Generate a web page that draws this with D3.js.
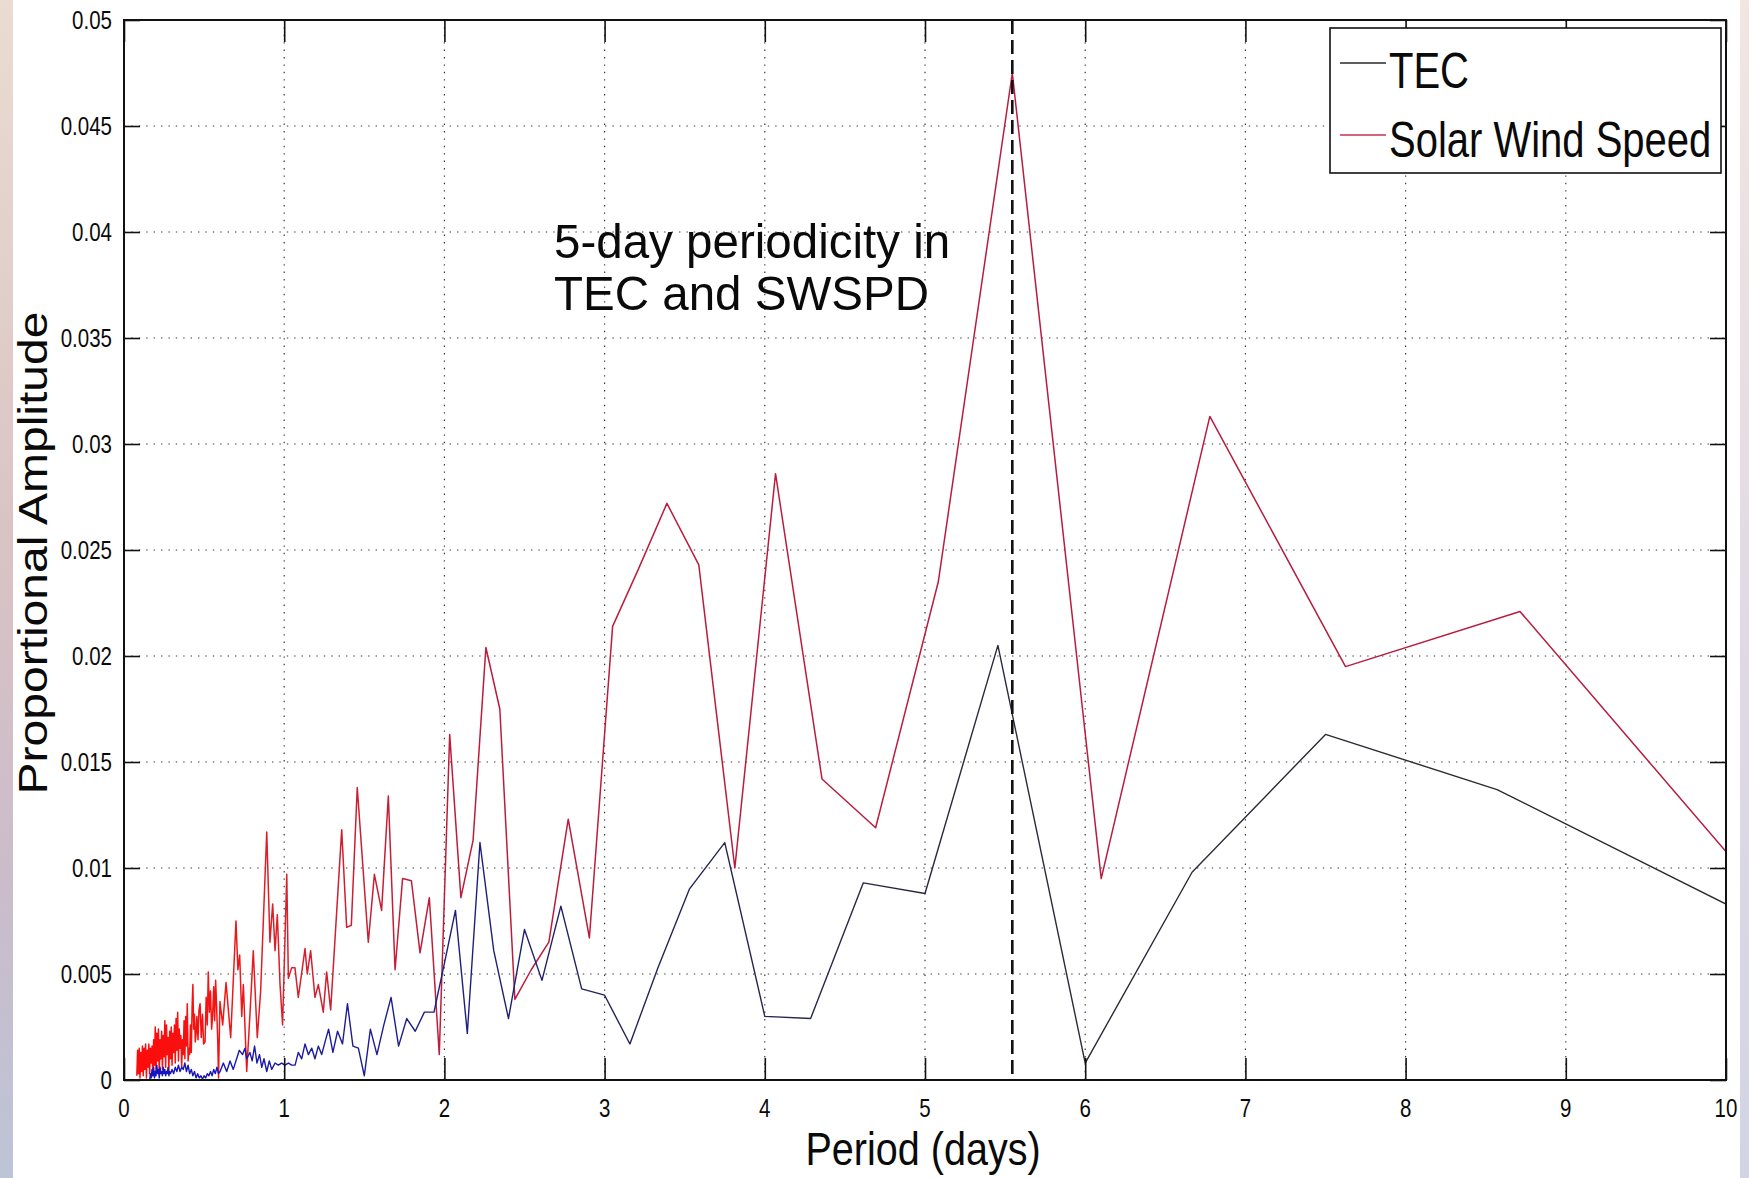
<!DOCTYPE html>
<html>
<head>
<meta charset="utf-8">
<script src="https://cdn.jsdelivr.net/npm/d3@7"></script>
<style>
  body { margin: 0; background: #ffffff; }
  svg { display: block; font-family: "Liberation Sans", Arial, Helvetica, sans-serif; }
</style>
</head>
<body>
<svg id="chart" width="1749" height="1178"></svg>
<script>
// ---- data -----------------------------------------------------------
const xTicks = [0, 1, 2, 3, 4, 5, 6, 7, 8, 9, 10];
const yTicks = [0, 0.005, 0.01, 0.015, 0.02, 0.025, 0.03, 0.035, 0.04, 0.045, 0.05];
const yTickLabels = ["0", "0.005", "0.01", "0.015", "0.02", "0.025", "0.03", "0.035", "0.04", "0.045", "0.05"];
const seriesNames = ["TEC", "Solar Wind Speed"];
const markerPeriod = 5.545;
const noteLines = ["5-day periodicity in", "TEC and SWSPD"];

// TEC spectrum: [period (days), proportional amplitude]
const tecSeries = [
  [0.160,0.0000],[0.165,0.0003],[0.170,0.0001],[0.175,0.0005],[0.180,0.0002],[0.185,0.0006],
  [0.190,0.0001],[0.195,0.0004],[0.200,0.0002],[0.205,0.0007],[0.210,0.0003],[0.215,0.0005],
  [0.220,0.0001],[0.225,0.0006],[0.230,0.0003],[0.235,0.0004],[0.240,0.0002],[0.245,0.0006],
  [0.250,0.0003],[0.255,0.0005],[0.260,0.0002],[0.265,0.0004],[0.270,0.0003],[0.275,0.0006],
  [0.280,0.0002],[0.285,0.0004],[0.290,0.0003],[0.300,0.0005],[0.310,0.0003],[0.320,0.0006],
  [0.330,0.0004],[0.340,0.0007],[0.350,0.0004],[0.360,0.0006],[0.370,0.0005],[0.380,0.0008],
  [0.390,0.0004],[0.400,0.0007],[0.410,0.0003],[0.420,0.0005],[0.430,0.0002],[0.440,0.0004],
  [0.450,0.0001],[0.460,0.0003],[0.470,0.0001],[0.480,0.0002],[0.490,0.00005],[0.500,0.0002],
  [0.510,0.0001],[0.520,0.0003],[0.530,0.0002],[0.540,0.0004],[0.550,0.0002],[0.560,0.0005],
  [0.570,0.0003],[0.580,0.0006],[0.590,0.0003],[0.600,0.0004],[0.620,0.0008],[0.641,0.0004],
  [0.662,0.0009],[0.682,0.0005],[0.703,0.0010],[0.720,0.0014],[0.740,0.0012],[0.755,0.0015],
  [0.766,0.0010],[0.786,0.0013],[0.800,0.0009],[0.815,0.0016],[0.830,0.0008],[0.846,0.0012],
  [0.860,0.0006],[0.874,0.0010],[0.891,0.0004],[0.907,0.0009],[0.922,0.0005],[0.943,0.0008],
  [0.963,0.0007],[0.984,0.0008],[1.005,0.0007],[1.026,0.0008],[1.047,0.0007],[1.068,0.0007],
  [1.088,0.0013],[1.109,0.0010],[1.130,0.0017],[1.151,0.0012],[1.172,0.0015],[1.192,0.0010],
  [1.213,0.0016],[1.234,0.0012],[1.255,0.0018],[1.277,0.0024],[1.304,0.0013],[1.333,0.0023],
  [1.364,0.0017],[1.395,0.0036],[1.429,0.0016],[1.463,0.0015],[1.500,0.0002],[1.538,0.0024],
  [1.579,0.0012],[1.622,0.0026],[1.667,0.0039],[1.714,0.0016],[1.765,0.0029],[1.818,0.0023],
  [1.875,0.0032],[1.935,0.0032],[2.000,0.0055],[2.069,0.0080],[2.143,0.0022],[2.222,0.0112],
  [2.308,0.0061],[2.400,0.0029],[2.500,0.0071],[2.609,0.0047],[2.727,0.0082],[2.857,0.0043],
  [3.000,0.0040],[3.158,0.0017],[3.333,0.0053],[3.529,0.0090],[3.750,0.0112],[4.000,0.0030],
  [4.286,0.0029],[4.615,0.0093],[5.000,0.0088],[5.455,0.0205],[6.000,0.0008],[6.667,0.0098],
  [7.500,0.0163],[8.571,0.0137],[10.000,0.0083]
];

// Solar wind speed spectrum: [period (days), proportional amplitude]
const swsSeries = [
  [0.080,0.0002],[0.085,0.0014],[0.090,0.0003],[0.095,0.0015],[0.100,0.0001],[0.105,0.0013],
  [0.110,0.0004],[0.115,0.0016],[0.120,0.0002],[0.125,0.0015],[0.130,0.0005],[0.135,0.0017],
  [0.140,0.0001],[0.145,0.0014],[0.150,0.0006],[0.155,0.0017],[0.160,0.0003],[0.165,0.0015],
  [0.170,0.0008],[0.175,0.0016],[0.180,0.0002],[0.185,0.0019],[0.190,0.0007],[0.195,0.0025],
  [0.200,0.0004],[0.205,0.0022],[0.210,0.0009],[0.215,0.0024],[0.220,0.0003],[0.225,0.0019],
  [0.230,0.0010],[0.235,0.0023],[0.240,0.0005],[0.245,0.0021],[0.250,0.0011],[0.255,0.0028],
  [0.260,0.0006],[0.265,0.0026],[0.270,0.0012],[0.275,0.0020],[0.280,0.0004],[0.285,0.0023],
  [0.290,0.0010],[0.295,0.0025],[0.300,0.0007],[0.305,0.0022],[0.310,0.0013],[0.315,0.0026],
  [0.320,0.0008],[0.325,0.0029],[0.330,0.0014],[0.335,0.0032],[0.340,0.0009],[0.345,0.0024],
  [0.350,0.0015],[0.355,0.0021],[0.360,0.0006],[0.365,0.0019],[0.370,0.0012],[0.375,0.0028],
  [0.380,0.0010],[0.385,0.0030],[0.390,0.0016],[0.395,0.0036],[0.400,0.0009],[0.405,0.0015],
  [0.410,0.0012],[0.415,0.0026],[0.420,0.0013],[0.425,0.0034],[0.430,0.0045],[0.435,0.0024],
  [0.440,0.0031],[0.445,0.0018],[0.450,0.0022],[0.455,0.0030],[0.462,0.0019],[0.468,0.0033],
  [0.475,0.0036],[0.482,0.0020],[0.490,0.0031],[0.497,0.0017],[0.506,0.0018],[0.513,0.0039],
  [0.520,0.0026],[0.526,0.0051],[0.533,0.0032],[0.540,0.0042],[0.547,0.0024],[0.553,0.0030],
  [0.560,0.0044],[0.566,0.0028],[0.572,0.0047],[0.578,0.0035],[0.585,0.0019],[0.590,0.0001],
  [0.599,0.0037],[0.616,0.0026],[0.637,0.0046],[0.666,0.0020],[0.699,0.0075],[0.711,0.0052],
  [0.722,0.0059],[0.735,0.0030],[0.745,0.0045],[0.766,0.0004],[0.787,0.0032],[0.807,0.0061],
  [0.832,0.0020],[0.853,0.0042],[0.891,0.0117],[0.911,0.0065],[0.928,0.0083],[0.943,0.0061],
  [0.957,0.0078],[0.974,0.0045],[0.990,0.0026],[1.016,0.0097],[1.026,0.0048],[1.047,0.0053],
  [1.067,0.0053],[1.088,0.0039],[1.130,0.0062],[1.144,0.0050],[1.165,0.0061],[1.192,0.0039],
  [1.213,0.0045],[1.244,0.0032],[1.265,0.0051],[1.290,0.0033],[1.359,0.0118],[1.390,0.0072],
  [1.419,0.0073],[1.456,0.0138],[1.525,0.0065],[1.563,0.0097],[1.608,0.0080],[1.650,0.0134],
  [1.692,0.0052],[1.739,0.0095],[1.794,0.0094],[1.848,0.0060],[1.906,0.0086],[1.968,0.0012],
  [2.033,0.0163],[2.103,0.0086],[2.179,0.0113],[2.259,0.0204],[2.346,0.0175],[2.440,0.0038],
  [2.542,0.0052],[2.652,0.0065],[2.773,0.0123],[2.905,0.0067],[3.050,0.0214],[3.211,0.0241],
  [3.389,0.0272],[3.588,0.0243],[3.813,0.0100],[4.067,0.0286],[4.357,0.0142],[4.692,0.0119],
  [5.083,0.0235],[5.545,0.0475],[6.100,0.0095],[6.778,0.0313],[7.625,0.0195],[8.714,0.0221],
  [10.167,0.0093]
];

// ---- layout ---------------------------------------------------------
const W = 1749, H = 1178;
const plot = { left: 124, right: 1726, top: 20, bottom: 1080 };
const squeeze = 0.82;   // narrow letterforms used by the axis text

const x = d3.scaleLinear().domain([0, 10]).range([plot.left, plot.right]);
const y = d3.scaleLinear().domain([0, 0.05]).range([plot.bottom, plot.top]);

const svg = d3.select("#chart");
const defs = svg.append("defs");

// slide edge colouring
const edgeL = defs.append("linearGradient").attr("id", "edgeL")
  .attr("x1", 0).attr("y1", 0).attr("x2", 0).attr("y2", 1);
edgeL.append("stop").attr("offset", "0%").attr("stop-color", "#eadcd2");
edgeL.append("stop").attr("offset", "45%").attr("stop-color", "#d9c4c4");
edgeL.append("stop").attr("offset", "75%").attr("stop-color", "#cbbccb");
edgeL.append("stop").attr("offset", "100%").attr("stop-color", "#bcc4d6");
const edgeR = defs.append("linearGradient").attr("id", "edgeR")
  .attr("x1", 0).attr("y1", 0).attr("x2", 0).attr("y2", 1);
edgeR.append("stop").attr("offset", "0%").attr("stop-color", "#f1e6e2");
edgeR.append("stop").attr("offset", "50%").attr("stop-color", "#e2dae4");
edgeR.append("stop").attr("offset", "100%").attr("stop-color", "#d2d4e4");

svg.append("rect").attr("x", 0).attr("y", 0).attr("width", W).attr("height", H).attr("fill", "#ffffff");
svg.append("rect").attr("x", 0).attr("y", 0).attr("width", 13).attr("height", H).attr("fill", "url(#edgeL)");
svg.append("rect").attr("x", 1740).attr("y", 0).attr("width", 9).attr("height", H).attr("fill", "url(#edgeR)");

// line colours fade from saturated (dense low periods) to darker tones
const gradTec = defs.append("linearGradient").attr("id", "gradTec")
  .attr("gradientUnits", "userSpaceOnUse")
  .attr("x1", x(0)).attr("y1", 0).attr("x2", x(10)).attr("y2", 0);
[[0, "#1414c8"], [0.15, "#1c1c96"], [0.3, "#22225a"], [0.55, "#2a2a3a"], [1, "#2a2a2a"]]
  .forEach(([o, c]) => gradTec.append("stop").attr("offset", o).attr("stop-color", c));
const gradSws = defs.append("linearGradient").attr("id", "gradSws")
  .attr("gradientUnits", "userSpaceOnUse")
  .attr("x1", x(0)).attr("y1", 0).attr("x2", x(10)).attr("y2", 0);
[[0, "#ff0a0a"], [0.06, "#f41414"], [0.1, "#d8202c"], [0.2, "#bc1c3c"], [1, "#b41c40"]]
  .forEach(([o, c]) => gradSws.append("stop").attr("offset", o).attr("stop-color", c));

defs.append("clipPath").attr("id", "plotClip").append("rect")
  .attr("x", plot.left).attr("y", plot.top)
  .attr("width", plot.right - plot.left).attr("height", plot.bottom - plot.top);

// ---- grid -----------------------------------------------------------
const grid = svg.append("g").attr("stroke", "#3a3a3a").attr("stroke-width", 1.2)
  .attr("stroke-dasharray", "1.4 6");
grid.selectAll("line.gx").data(xTicks.slice(1, -1)).join("line")
  .attr("x1", d => x(d)).attr("x2", d => x(d)).attr("y1", plot.top).attr("y2", plot.bottom);
grid.selectAll("line.gy").data(yTicks.slice(1, -1)).join("line")
  .attr("x1", plot.left).attr("x2", plot.right).attr("y1", d => y(d)).attr("y2", d => y(d));

// ---- series ---------------------------------------------------------
const line = d3.line().x(d => x(d[0])).y(d => y(d[1]));
const series = svg.append("g").attr("clip-path", "url(#plotClip)").attr("fill", "none");
series.append("path").datum(swsSeries).attr("d", line)
  .attr("stroke", "url(#gradSws)").attr("stroke-width", 1.5).attr("stroke-linejoin", "round");
series.append("path").datum(tecSeries).attr("d", line)
  .attr("stroke", "url(#gradTec)").attr("stroke-width", 1.4).attr("stroke-linejoin", "round");

// dashed marker at the dominant period
svg.append("line")
  .attr("x1", x(markerPeriod)).attr("x2", x(markerPeriod))
  .attr("y1", y(0.05)).attr("y2", y(0))
  .attr("stroke", "#111").attr("stroke-width", 2.6).attr("stroke-dasharray", "14 6");

// ---- axes -----------------------------------------------------------
function styleAxis(g) {
  g.select(".domain").remove();
  g.selectAll(".tick line").attr("stroke", "#111").attr("stroke-width", 1.6);
}
svg.append("g").attr("transform", `translate(0,${plot.bottom})`)
  .call(d3.axisBottom(x).tickValues(xTicks).tickSizeInner(-22).tickSizeOuter(0).tickFormat(""))
  .call(styleAxis);
svg.append("g").attr("transform", `translate(0,${plot.top})`)
  .call(d3.axisTop(x).tickValues(xTicks).tickSizeInner(-22).tickSizeOuter(0).tickFormat(""))
  .call(styleAxis);
svg.append("g").attr("transform", `translate(${plot.left},0)`)
  .call(d3.axisLeft(y).tickValues(yTicks).tickSizeInner(-16).tickSizeOuter(0).tickFormat(""))
  .call(styleAxis);
svg.append("g").attr("transform", `translate(${plot.right},0)`)
  .call(d3.axisRight(y).tickValues(yTicks).tickSizeInner(-16).tickSizeOuter(0).tickFormat(""))
  .call(styleAxis);

// axes box
svg.append("rect").attr("x", plot.left).attr("y", plot.top)
  .attr("width", plot.right - plot.left).attr("height", plot.bottom - plot.top)
  .attr("fill", "none").attr("stroke", "#111").attr("stroke-width", 2);

// helper: horizontally narrowed text
function label(parent, tx, ty, str, size, anchor, sx = squeeze, rot = 0) {
  const g = parent.append("g")
    .attr("transform", `translate(${tx},${ty}) scale(${sx},1) rotate(${rot})`);
  g.append("text").attr("text-anchor", anchor).attr("font-size", size)
    .attr("fill", "#0a0a0a").text(str);
  return g;
}

const tickText = svg.append("g");
xTicks.forEach(t => label(tickText, x(t), 1117, String(t), 25, "middle"));
yTicks.forEach((t, i) => label(tickText, 112, y(t) + 9, yTickLabels[i], 25, "end"));

// axis titles
label(svg, (plot.left + plot.right) / 2 - 2, 1165, "Period (days)", 46, "middle", 0.86);
label(svg, 47, (plot.top + plot.bottom) / 2 + 3, "Proportional Amplitude", 48, "middle", 0.86, -90);

// ---- annotation -----------------------------------------------------
noteLines.forEach((s, i) => label(svg, 554, 258 + i * 52, s, 49, "start", 0.97));

// ---- legend ---------------------------------------------------------
const legend = svg.append("g");
legend.append("rect").attr("x", 1330).attr("y", 28).attr("width", 391).attr("height", 145)
  .attr("fill", "#ffffff").attr("stroke", "#111").attr("stroke-width", 1.6);
const legendRows = [
  { name: seriesNames[0], color: "#2a2a2a", ly: 63, ty: 88 },
  { name: seriesNames[1], color: "#c4344c", ly: 135, ty: 157 }
];
legendRows.forEach(r => {
  legend.append("line").attr("x1", 1340).attr("x2", 1386).attr("y1", r.ly).attr("y2", r.ly)
    .attr("stroke", r.color).attr("stroke-width", 1.4);
  label(legend, 1389, r.ty, r.name, 50, "start", 0.8);
});
</script>
</body>
</html>
